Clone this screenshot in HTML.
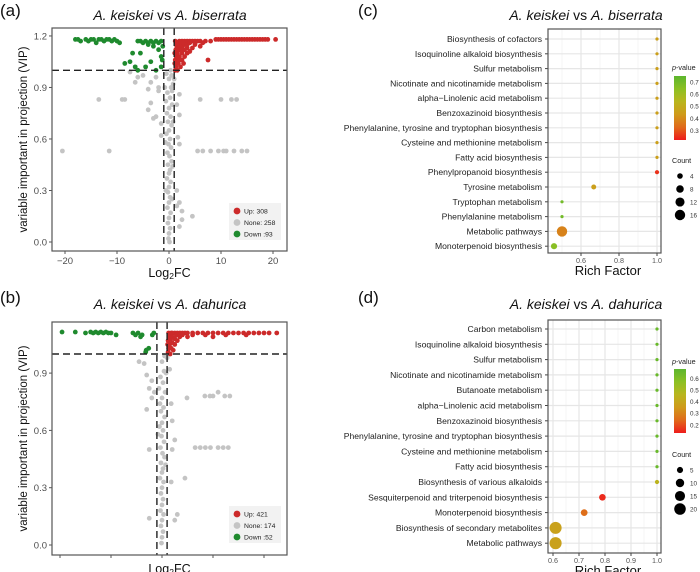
<!DOCTYPE html>
<html><head><meta charset="utf-8">
<style>
body{margin:0;background:#fff;width:700px;height:572px;overflow:hidden}
svg{display:block;font-family:"Liberation Sans",Arial,sans-serif}
</style></head>
<body>
<svg id="fig" width="700" height="572" viewBox="0 0 700 572"></svg>
<script>
// ===== Panel (a) data =====
const aUp = [[1.2,1.0],[1.3,1.02],[1.5,1.04],[1.2,1.06],[1.4,1.08],[1.6,1.1],[1.3,1.12],[1.5,1.14],[1.8,1.16],[1.2,1.17],[2,1.17],[2.5,1.17],[3,1.17],[3.5,1.17],[4,1.17],[4.5,1.17],[5,1.17],[5.5,1.17],[6,1.17],[6.5,1.16],[7,1.17],[8,1.17],[2,1.15],[2.5,1.14],[3,1.15],[3.5,1.15],[4,1.16],[5,1.15],[2,1.12],[2.5,1.1],[3,1.12],[3.5,1.13],[4.5,1.13],[2,1.08],[2.5,1.06],[3,1.08],[1.8,1.04],[2.2,1.02],[1.6,1.0],[3.5,1.1],[4,1.11],[2.8,1.04],[6,1.14],[7.5,1.06],[9,1.18],[9.5,1.18],[10,1.18],[10.5,1.18],[11,1.18],[11.5,1.18],[12,1.18],[12.5,1.18],[13,1.18],[13.5,1.18],[14,1.18],[14.5,1.18],[15,1.18],[15.5,1.18],[16,1.18],[16.5,1.18],[17,1.18],[17.5,1.18],[18,1.18],[18.5,1.18],[19,1.18],[20.5,1.18],[1.1,1.1],[1.1,1.04],[1.7,1.13],[2.3,1.16],[2.7,1.16],[1.4,1.16],[1.9,1.06],[2.6,1.12]];
const aDown = [[-18,1.18],[-17.5,1.18],[-17,1.17],[-16,1.18],[-15.5,1.17],[-15,1.18],[-14.5,1.18],[-14,1.16],[-13.5,1.18],[-13,1.18],[-12.5,1.17],[-12,1.18],[-11.5,1.18],[-11,1.17],[-10.5,1.18],[-10,1.17],[-9.5,1.16],[-6,1.17],[-5.5,1.17],[-5,1.16],[-4.5,1.17],[-4,1.16],[-3.5,1.17],[-3,1.16],[-2.5,1.17],[-2,1.16],[-1.5,1.17],[-8.5,1.04],[-7.5,1.05],[-6.5,1.02],[-6,1.0],[-4.5,1.02],[-3.5,1.05],[-2.5,1.0],[-1.5,1.02],[-1.5,1.08],[-2,1.12],[-5.5,1.1],[-7,1.1],[-3,1.14],[-1.2,1.14],[-4,1.15],[-1.3,1.06]];
const aNone = [[-20.5,0.53],[-11.5,0.53],[5.5,0.53],[6.5,0.53],[8,0.53],[9.5,0.53],[10.5,0.53],[11,0.53],[12.5,0.53],[14,0.53],[15,0.53],[-13.5,0.83],[-9,0.83],[-8.5,0.83],[6,0.83],[10,0.83],[12,0.83],[13,0.83],[-7.5,0.99],[-6,0.96],[-5,0.97],[-6.5,0.93],[-3.5,0.93],[-2.5,0.96],[-4,0.89],[-2,0.88],[-3.5,0.81],[-4,0.77],[-2.5,0.73],[-3,0.72],[-1.5,0.69],[-1.5,0.62],[-2,0.9],[2,0.86],[1.5,0.8],[2,0.74],[1.7,0.61],[2,0.57],[2,0.23],[2.5,0.18],[1.5,0.21],[2.5,0.13],[4.5,0.15],[2,0.09],[1.5,0.3],[0.3,1.0],[0.5,0.97],[0.8,0.92],[1,0.95],
[-0.5,0.98],[0,0.95],[0.4,0.9],[-0.3,0.87],[0.2,0.84],[-0.6,0.82],[0.6,0.8],[0,0.78],[-0.4,0.75],[0.3,0.73],[-0.2,0.7],[0.5,0.68],[0,0.65],[-0.5,0.63],[0.2,0.6],[-0.1,0.57],[0.4,0.55],[-0.3,0.52],[0.1,0.5],[0.5,0.47],[-0.2,0.45],[0.2,0.42],[0,0.4],[-0.4,0.37],[0.3,0.35],[0,0.32],[-0.2,0.29],[0.2,0.26],[0,0.23],[-0.3,0.2],[0.3,0.17],[0,0.14],[-0.2,0.11],[0.2,0.08],[0,0.05],[-0.1,0.02],[0.1,0.0],[0.6,0.88],[-0.8,0.9],[0.8,0.7],[-0.7,0.58],[0.7,0.44],[-0.6,0.3],[0.6,0.25]];
// ===== Panel (b) data =====
const bUp = [[1.2,1.01],[1.3,1.03],[1.5,1.05],[1.2,1.07],[1.4,1.09],[1.6,1.1],[1.3,1.11],[1.8,1.11],[2,1.11],[2.5,1.11],[3,1.11],[3.5,1.11],[4,1.11],[4.5,1.11],[5,1.11],[6,1.11],[7,1.11],[2,1.09],[2.5,1.08],[3,1.1],[3.5,1.09],[4,1.1],[2,1.06],[2.5,1.05],[1.8,1.03],[2.2,1.02],[1.6,1.0],[3,1.07],[5,1.09],[6,1.1],[8,1.11],[9,1.11],[10,1.11],[11,1.11],[12,1.11],[13,1.11],[14,1.11],[15,1.11],[16,1.11],[17,1.11],[18,1.11],[19,1.11],[20,1.11],[21,1.11],[22.5,1.11],[8.5,1.1],[12.5,1.1],[16.5,1.1],[10,1.09],[1.1,1.05],[1.7,1.08],[2.8,1.1]];
const bDown = [[-19.6,1.115],[-17,1.115],[-15,1.11],[-14,1.115],[-13.5,1.11],[-13,1.115],[-12.5,1.11],[-12,1.115],[-11.5,1.11],[-11,1.115],[-10.5,1.11],[-10,1.11],[-9,1.1],[-5.7,1.11],[-5.2,1.1],[-4.7,1.11],[-4.2,1.09],[-3.9,1.1],[-1.6,1.11],[-1.9,1.1],[-2.6,1.03],[-3.1,1.02],[-3.2,1.01]];
const bNone = [[-4.5,0.96],[-3.5,0.95],[-3,0.89],[-2,0.86],[-2.5,0.82],[-1.5,0.8],[-2,0.77],[-3,0.71],[-2.5,0.5],[-2.5,0.14],[4.9,0.77],[8.4,0.78],[9.4,0.78],[10,0.78],[11,0.8],[12.3,0.78],[13.3,0.78],[6.5,0.51],[7.5,0.51],[8.5,0.51],[9.5,0.51],[11,0.51],[12,0.51],[13,0.51],[4.5,0.35],[3,0.16],[2.5,0.13],[2,0.65],[2.5,0.55],[2,0.5],[1.8,0.33],[1.5,0.92],[1.8,0.74],
[0.5,0.99],[0,0.96],[0.4,0.91],[-0.3,0.88],[0.2,0.85],[-0.6,0.82],[0.6,0.8],[0,0.77],[-0.4,0.74],[0.3,0.72],[-0.2,0.7],[0.5,0.67],[0,0.64],[-0.5,0.62],[0.2,0.6],[-0.1,0.57],[0.4,0.54],[-0.3,0.51],[0.1,0.48],[0.5,0.46],[-0.2,0.43],[0.2,0.4],[0,0.38],[-0.4,0.35],[0.3,0.33],[0,0.3],[-0.2,0.27],[0.2,0.24],[0,0.21],[-0.3,0.18],[0.3,0.16],[0,0.13],[-0.2,0.1],[0.2,0.07],[0,0.04],[-0.1,0.01],[0.8,0.9],[-0.8,0.58],[0.7,0.42],[1,0.98],[1.2,1.0]];
// ===== Panel (c) data =====
const cCats = ["Biosynthesis of cofactors","Isoquinoline alkaloid biosynthesis","Sulfur metabolism","Nicotinate and nicotinamide metabolism","alpha\u2212Linolenic acid metabolism","Benzoxazinoid biosynthesis","Phenylalanine, tyrosine and tryptophan biosynthesis","Cysteine and methionine metabolism","Fatty acid biosynthesis","Phenylpropanoid biosynthesis","Tyrosine metabolism","Tryptophan metabolism","Phenylalanine metabolism","Metabolic pathways","Monoterpenoid biosynthesis"];
const cRich = [1,1,1,1,1,1,1,1,1,1,0.667,0.5,0.5,0.5,0.458];
const cP = [0.45,0.45,0.45,0.45,0.45,0.45,0.45,0.45,0.45,0.25,0.45,0.7,0.7,0.38,0.65];
const cCount = [1,1,1,1,1,1,1,1,1,2,3,1,1,16,5];
const cTicks = [0.6,0.8,1.0];
const cLegP = [0.7,0.6,0.5,0.4,0.3];
const cLegCount = [4,8,12,16];
// ===== Panel (d) data =====
const dCats = ["Carbon metabolism","Isoquinoline alkaloid biosynthesis","Sulfur metabolism","Nicotinate and nicotinamide metabolism","Butanoate metabolism","alpha\u2212Linolenic acid metabolism","Benzoxazinoid biosynthesis","Phenylalanine, tyrosine and tryptophan biosynthesis","Cysteine and methionine metabolism","Fatty acid biosynthesis","Biosynthesis of various alkaloids","Sesquiterpenoid and triterpenoid biosynthesis","Monoterpenoid biosynthesis","Biosynthesis of secondary metabolites","Metabolic pathways"];
const dRich = [1,1,1,1,1,1,1,1,1,1,1,0.79,0.72,0.61,0.61];
const dP = [0.65,0.65,0.65,0.65,0.65,0.65,0.65,0.65,0.65,0.65,0.45,0.15,0.25,0.38,0.38];
const dCount = [1,1,1,1,1,1,1,1,1,1,2,6,6,22,22];
const dTicks = [0.6,0.7,0.8,0.9,1.0];
const dLegP = [0.6,0.5,0.4,0.3,0.2];
const dLegCount = [5,10,15,20];

const NS="http://www.w3.org/2000/svg";
const svg=document.getElementById('fig');
function el(tag,attrs,parent,text){const e=document.createElementNS(NS,tag);for(const k in attrs)e.setAttribute(k,attrs[k]);if(text!==undefined)e.textContent=text;(parent||svg).appendChild(e);return e;}

function hex(c){return [parseInt(c.slice(1,3),16),parseInt(c.slice(3,5),16),parseInt(c.slice(5,7),16)];}
const stops=["#ee1c1c","#e06a1a","#cf9a1a","#b9b51e","#8cc023","#5cb62e"].map(hex);
function pColor(p,min,max){let t=Math.max(0,Math.min(1,(p-min)/(max-min)))*(stops.length-1);const i=Math.min(stops.length-2,Math.floor(t)),f=t-i;const c=stops[i].map((v,k)=>Math.round(v+(stops[i+1][k]-v)*f));return `rgb(${c.join(',')})`;}
const rad=c=>1.2*Math.sqrt(c)+0.4;

function title(x,y,a,b,name){const t=el('text',{x:x,y:y,'text-anchor':'middle','font-size':'14','fill':'#111'});
el('tspan',{'font-style':'italic'},t,'A. keiskei');el('tspan',{},t,' vs ');el('tspan',{'font-style':'italic'},t,b);}
function plabel(x,y,s){const t=el('text',{x:x,y:y,'font-size':'17','fill':'#111'},svg,s);}

// ===== Volcano =====
function volcano(o){
  const g=el('g',{});
  const X=v=>o.x0+o.sx*v, Y=v=>o.y0-o.sy*v;
  el('rect',{x:o.L,y:o.T,width:o.R-o.L,height:o.B-o.T,fill:'#fff'},g);
  const draw=(arr,col,nm)=>{arr.forEach(p=>{const c=el('circle',{cx:X(p[0]),cy:Y(p[1]),r:2.4,fill:col},g);});};
  draw(o.none,'#c4c4c4','point-none');draw(o.up,'#cc2a2a','point-up');draw(o.down,'#1f8a2e','point-down');
  el('line',{x1:o.L,x2:o.R,y1:Y(1),y2:Y(1),stroke:'#222','stroke-width':1.4,'stroke-dasharray':'7,4'},g);
  [-1,1].forEach(v=>el('line',{x1:X(v),x2:X(v),y1:o.T,y2:o.B,stroke:'#222','stroke-width':1.4,'stroke-dasharray':'7,4'},g));
  el('rect',{x:o.L,y:o.T,width:o.R-o.L,height:o.B-o.T,fill:'none',stroke:'#555','stroke-width':1.2},g);
  o.yt.forEach(v=>{el('line',{x1:o.L-3,x2:o.L,y1:Y(v),y2:Y(v),stroke:'#555'},g);el('text',{x:o.L-5,y:Y(v)+3.5,'text-anchor':'end','font-size':'9.5',fill:'#4d4d4d'},g,v.toFixed(1));});
  o.xt.forEach(v=>{el('line',{x1:X(v),x2:X(v),y1:o.B,y2:o.B+3,stroke:'#555'},g);if(o.xlab)el('text',{x:X(v),y:o.B+13,'text-anchor':'middle','font-size':'9.5',fill:'#4d4d4d'},g,String(v).replace('-','\u2212'));});
  const xl=el('text',{x:(o.L+o.R)/2,y:o.B+(o.xlab?26:18),'text-anchor':'middle','font-size':'12.5',fill:'#111'},g);
  el('tspan',{},xl,'Log');el('tspan',{'font-size':'8.5',dy:'2'},xl,'2');el('tspan',{dy:'-2'},xl,'FC');
  const yl=el('text',{transform:`translate(27,${(o.T+o.B)/2}) rotate(-90)`,'text-anchor':'middle','font-size':'11.5',fill:'#111'},g,'variable important in projection (VIP)');
  
  const lg=el('g',{},g);
  el('rect',{x:229,y:o.lgy-8,width:52,height:37,fill:'#f2f2f2'},lg);
  [['#cc2a2a','Up: '+o.nUp],['#c4c4c4','None: '+o.nNone],['#1f8a2e','Down :'+o.nDown]].forEach((e,i)=>{
    const ge=el('g',{},lg);
    el('circle',{cx:237,cy:o.lgy+i*11.5,r:3.4,fill:e[0]},ge);el('text',{x:244,y:o.lgy+i*11.5+2.5,'font-size':'6.8',fill:'#222'},ge,e[1]);});
}
plabel(0,16,'(a)');title(170,20,'A. keiskei','A. biserrata','title-a');
volcano({name:'volcano-a',L:52,R:287,T:28,B:251,x0:169,sx:5.2,y0:242,sy:171.7,yt:[0,0.3,0.6,0.9,1.2],xt:[-20,-10,0,10,20],xlab:true,up:aUp,down:aDown,none:aNone,nUp:308,nNone:258,nDown:93,lgy:211});
plabel(0,303,'(b)');title(170,309,'A. keiskei','A. dahurica','title-b');
volcano({name:'volcano-b',L:52,R:287,T:322,B:555,x0:162,sx:5.1,y0:545,sy:191,yt:[0,0.3,0.6,0.9],xt:[-20,-10,0,10,20],xlab:false,up:bUp,down:bDown,none:bNone,nUp:421,nNone:174,nDown:52,lgy:514});

// ===== Bubble charts =====
function bubble(o){
  const g=el('g',{});
  const X=v=>o.x0+o.sx*(v-0.6), Y=i=>o.r0+i*o.dy;
  el('rect',{x:o.L,y:o.T,width:o.R-o.L,height:o.B-o.T,fill:'#fff'},g);
  o.minor.forEach(v=>el('line',{x1:X(v),x2:X(v),y1:o.T,y2:o.B,stroke:'#f2f2f2','stroke-width':0.8},g));
  o.ticks.forEach(v=>el('line',{x1:X(v),x2:X(v),y1:o.T,y2:o.B,stroke:'#e6e6e6','stroke-width':1.2},g));
  o.cats.forEach((c,i)=>{el('line',{x1:o.L,x2:o.R,y1:Y(i),y2:Y(i),stroke:'#e6e6e6','stroke-width':1.2},g);
    el('line',{x1:o.L-3,x2:o.L,y1:Y(i),y2:Y(i),stroke:'#444'},g);
    const t=el('text',{x:o.L-6,y:Y(i)+3,'text-anchor':'end','font-size':'8.6',fill:'#222'},g,c);});
  o.cats.forEach((c,i)=>{const b=el('circle',{cx:X(o.rich[i]),cy:Y(i),r:rad(o.count[i]),fill:pColor(o.p[i],o.pmin,o.pmax)},g);});
  el('rect',{x:o.L,y:o.T,width:o.R-o.L,height:o.B-o.T,fill:'none',stroke:'#555','stroke-width':1.2},g);
  o.ticks.forEach(v=>{el('line',{x1:X(v),x2:X(v),y1:o.B,y2:o.B+3,stroke:'#444'},g);el('text',{x:X(v),y:o.B+10,'text-anchor':'middle','font-size':'7.2',fill:'#555'},g,v.toFixed(1));});
  const xl=el('text',{x:608,y:o.B+22,'text-anchor':'middle','font-size':'13',fill:'#111'},g,'Rich Factor');
  const lg=el('g',{},g);
  const tt=el('text',{x:672,y:o.lt,'font-size':'7.2',fill:'#222'},lg);el('tspan',{'font-style':'italic'},tt,'p');el('tspan',{},tt,'-value');
  const gid='grad'+o.name;const defs=el('defs',{},lg);const lgr=el('linearGradient',{id:gid,x1:0,y1:1,x2:0,y2:0},defs);
  for(let k=0;k<=10;k++){const pv=o.pmin+(o.pmax-o.pmin)*k/10;el('stop',{offset:k/10,'stop-color':pColor(pv,o.pmin,o.pmax)},lgr);}
  el('rect',{x:674,y:o.bt,width:12,height:o.bb-o.bt,fill:`url(#${gid})`},lg);
  o.legP.forEach(v=>{const yy=o.bb-(v-o.pmin)/(o.pmax-o.pmin)*(o.bb-o.bt);el('text',{x:690,y:yy+2.5,'font-size':'6.3',fill:'#333'},lg,v.toFixed(1));});
  const cg=el('g',{},g);
  el('text',{x:672,y:o.ct,'font-size':'7.2',fill:'#222'},cg,'Count');
  o.legC.forEach((v,k)=>{const yy=o.ct+13+k*13;el('circle',{cx:680,cy:yy,r:rad(v),fill:'#000'},cg);el('text',{x:690,y:yy+2.5,'font-size':'6.3',fill:'#333'},cg,String(v));});
}
plabel(358,16,'(c)');title(586,20,'A. keiskei','A. biserrata','title-c');
bubble({name:'bubble-c',cats:cCats,rich:cRich,p:cP,count:cCount,ticks:cTicks,minor:[0.5,0.7,0.9],L:548,R:661,T:29,B:253,x0:581,sx:190,r0:39,dy:14.8,pmin:0.22,pmax:0.75,legP:cLegP,legC:cLegCount,lt:70,bt:76,bb:140,ct:163});
plabel(358,303,'(d)');title(586,309,'A. keiskei','A. dahurica','title-d');
bubble({name:'bubble-d',cats:dCats,rich:dRich,p:dP,count:dCount,ticks:dTicks,minor:[0.65,0.75,0.85,0.95],L:548,R:661,T:320,B:553,x0:553,sx:260,r0:329,dy:15.3,pmin:0.13,pmax:0.68,legP:dLegP,legC:dLegCount,lt:364,bt:369,bb:433,ct:457});
</script>
</body></html>
